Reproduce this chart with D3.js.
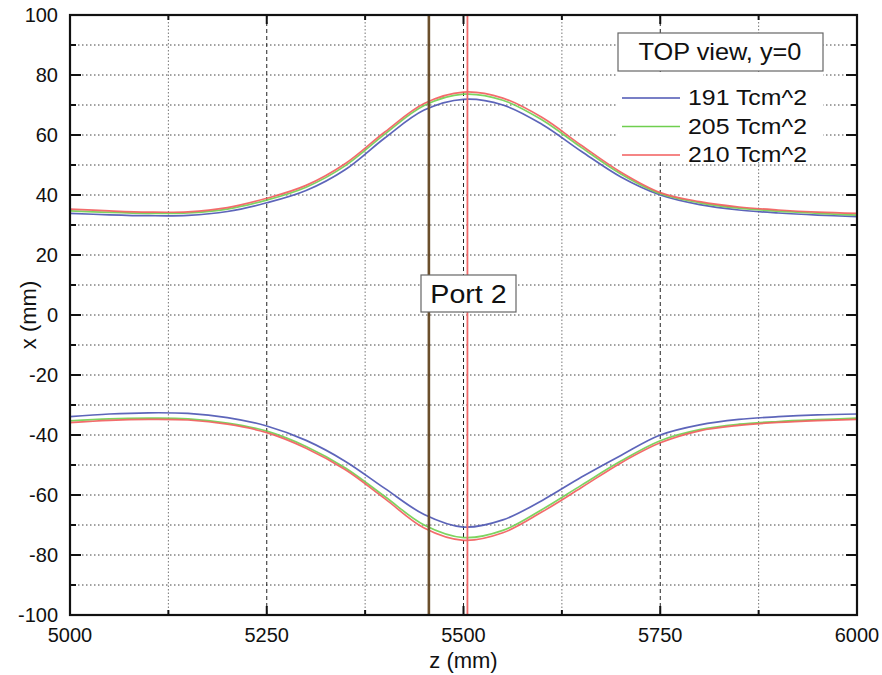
<!DOCTYPE html>
<html>
<head>
<meta charset="utf-8">
<script src="https://cdn.jsdelivr.net/npm/d3@7"></script>
<style>
  body { margin: 0; background: #fff; }
  svg { display: block; font-family: "Liberation Sans", Arial, sans-serif; }
</style>
</head>
<body>
<svg id="chart" width="882" height="675"></svg>
<script>
// Beam envelope (x vs z) for three field integrals, top view at y = 0
const zValues  = [5000, 5050, 5100, 5150, 5200, 5250, 5300, 5350, 5400, 5450, 5500, 5550, 5600, 5650, 5700, 5750, 5800, 5850, 5900, 5950, 6000];

const upper191 = [33.9, 33.4, 33.1, 33.2, 34.5, 37.4, 41.5, 48.5, 59.0, 68.3, 71.9, 70.0, 63.5, 54.5, 46.0, 40.0, 36.8, 35.0, 34.0, 33.3, 32.8];
const upper205 = [34.7, 34.2, 33.9, 34.0, 35.3, 38.3, 42.6, 49.8, 60.3, 69.8, 73.6, 71.6, 65.0, 55.8, 47.0, 40.4, 37.4, 35.6, 34.6, 33.9, 33.3];
const upper210 = [35.3, 34.7, 34.3, 34.4, 35.8, 38.9, 43.2, 50.5, 61.0, 70.5, 74.3, 72.3, 65.8, 56.5, 47.6, 40.8, 37.8, 36.0, 35.0, 34.3, 33.9];

const lower191 = [-33.9, -33.0, -32.6, -32.8, -34.2, -37.0, -41.8, -48.8, -57.8, -66.5, -70.7, -68.3, -61.8, -54.0, -46.8, -40.0, -36.6, -34.8, -33.9, -33.3, -33.0];
const lower205 = [-35.3, -34.6, -34.4, -34.6, -36.0, -38.7, -43.8, -51.0, -60.5, -70.0, -74.2, -71.8, -64.8, -56.7, -48.7, -41.9, -38.2, -36.4, -35.5, -34.9, -34.4];
const lower210 = [-35.9, -35.1, -34.8, -35.0, -36.4, -39.2, -44.4, -51.6, -61.2, -71.0, -75.1, -72.6, -65.6, -57.5, -49.3, -42.6, -38.6, -36.8, -35.8, -35.2, -34.8];

const seriesNames  = ["191 Tcm^2", "205 Tcm^2", "210 Tcm^2"];
const seriesColors = ["#4b54b3", "#6fcf4f", "#f25c5c"];

// Reference positions along z
const portZ   = [5456];
const markerZ = [5505];

const xTickValues = [5000, 5250, 5500, 5750, 6000];
const xMinorTicks = [5125, 5375, 5625, 5875];
const yTickValues = [-100, -80, -60, -40, -20, 0, 20, 40, 60, 80, 100];
const yMinorTicks = [-90, -70, -50, -30, -10, 10, 30, 50, 70, 90];

const svg = d3.select("#chart");
const plotLeft = 70, plotTop = 15, plotW = 787, plotH = 600;

const x = d3.scaleLinear().domain([5000, 6000]).range([plotLeft, plotLeft + plotW]);
const y = d3.scaleLinear().domain([-100, 100]).range([plotTop + plotH, plotTop]);

const g = svg.append("g");

// Grid
g.selectAll(".hgrid").data(yTickValues.concat(yMinorTicks).filter(v => v > -100 && v < 100))
  .join("line")
  .attr("x1", plotLeft).attr("x2", plotLeft + plotW)
  .attr("y1", d => y(d)).attr("y2", d => y(d))
  .attr("stroke", "#444").attr("stroke-width", 1).attr("stroke-dasharray", "1.5,2.5");

g.selectAll(".vminor").data(xMinorTicks).join("line")
  .attr("x1", d => x(d)).attr("x2", d => x(d))
  .attr("y1", plotTop).attr("y2", plotTop + plotH)
  .attr("stroke", "#777").attr("stroke-width", 1).attr("stroke-dasharray", "1.5,2");

g.selectAll(".vmajor").data(xTickValues.filter(v => v > 5000 && v < 6000)).join("line")
  .attr("x1", d => x(d)).attr("x2", d => x(d))
  .attr("y1", plotTop).attr("y2", plotTop + plotH)
  .attr("stroke", "#222").attr("stroke-width", 1).attr("stroke-dasharray", "4,3");

// Curves
const line = d3.line().x((d, i) => x(zValues[i])).y(d => y(d)).curve(d3.curveCatmullRom.alpha(0.5));
const curves = [upper191, upper205, upper210, lower191, lower205, lower210];
curves.forEach((vals, k) => {
  g.append("path").datum(vals)
    .attr("d", line)
    .attr("fill", "none")
    .attr("stroke", seriesColors[k % 3])
    .attr("stroke-width", 1.7)
    .attr("stroke-opacity", 0.9);
});

// Vertical reference lines
g.selectAll(".port").data(portZ).join("line")
  .attr("x1", d => x(d)).attr("x2", d => x(d))
  .attr("y1", plotTop).attr("y2", plotTop + plotH)
  .attr("stroke", "#6b4f2c").attr("stroke-width", 2.6);

g.selectAll(".marker").data(markerZ).join("line")
  .attr("x1", d => x(d)).attr("x2", d => x(d))
  .attr("y1", plotTop).attr("y2", plotTop + plotH)
  .attr("stroke", "#f06a6a").attr("stroke-width", 1.8);

// Frame and ticks
const frame = svg.append("g").attr("stroke", "#111").attr("stroke-width", 2.2);
frame.append("rect").attr("x", plotLeft).attr("y", plotTop).attr("width", plotW).attr("height", plotH)
  .attr("fill", "none");

const tickG = svg.append("g").attr("stroke", "#111").attr("stroke-width", 2);
yTickValues.forEach(v => {
  tickG.append("line").attr("x1", plotLeft).attr("x2", plotLeft + 11).attr("y1", y(v)).attr("y2", y(v));
  tickG.append("line").attr("x1", plotLeft + plotW).attr("x2", plotLeft + plotW - 11).attr("y1", y(v)).attr("y2", y(v));
});
yMinorTicks.forEach(v => {
  tickG.append("line").attr("x1", plotLeft).attr("x2", plotLeft + 6).attr("y1", y(v)).attr("y2", y(v));
  tickG.append("line").attr("x1", plotLeft + plotW).attr("x2", plotLeft + plotW - 6).attr("y1", y(v)).attr("y2", y(v));
});
xTickValues.forEach(v => {
  tickG.append("line").attr("x1", x(v)).attr("x2", x(v)).attr("y1", plotTop + plotH).attr("y2", plotTop + plotH - 9);
  tickG.append("line").attr("x1", x(v)).attr("x2", x(v)).attr("y1", plotTop).attr("y2", plotTop + 9);
});
xMinorTicks.forEach(v => {
  tickG.append("line").attr("x1", x(v)).attr("x2", x(v)).attr("y1", plotTop + plotH).attr("y2", plotTop + plotH - 5);
  tickG.append("line").attr("x1", x(v)).attr("x2", x(v)).attr("y1", plotTop).attr("y2", plotTop + 5);
});

// Tick labels
svg.append("g").selectAll("text").data(yTickValues).join("text")
  .attr("x", plotLeft - 12).attr("y", d => y(d))
  .attr("text-anchor", "end").attr("dominant-baseline", "central")
  .attr("font-size", 20).attr("fill", "#111")
  .text(d => d);

svg.append("g").selectAll("text").data(xTickValues).join("text")
  .attr("x", d => x(d)).attr("y", plotTop + plotH + 27)
  .attr("text-anchor", "middle")
  .attr("font-size", 20).attr("fill", "#111")
  .text(d => d);

// Axis titles
svg.append("text")
  .attr("x", x(5500)).attr("y", 668)
  .attr("text-anchor", "middle").attr("font-size", 22).attr("fill", "#111")
  .text("z (mm)");

svg.append("text")
  .attr("transform", `translate(36,${y(0)}) rotate(-90)`)
  .attr("text-anchor", "middle").attr("font-size", 22).attr("fill", "#111")
  .text("x (mm)");

// Legend
const lg = svg.append("g");
lg.append("rect").attr("x", 617).attr("y", 72).attr("width", 206).attr("height", 90).attr("fill", "#fff");
lg.append("rect").attr("x", 618).attr("y", 33).attr("width", 205).attr("height", 38)
  .attr("fill", "#fff").attr("stroke", "#666").attr("stroke-width", 1.2);
lg.append("text")
  .attr("transform", "translate(720,52) scale(1.1,1)")
  .attr("text-anchor", "middle")
  .attr("dominant-baseline", "central").attr("font-size", 23).attr("fill", "#111")
  .text("TOP view, y=0");
seriesNames.forEach((name, i) => {
  const cy = 98 + i * 28.5;
  lg.append("line").attr("x1", 622).attr("x2", 680).attr("y1", cy).attr("y2", cy)
    .attr("stroke", seriesColors[i]).attr("stroke-width", 1.7);
  lg.append("text")
    .attr("transform", `translate(688,${cy}) scale(1.13,1)`)
    .attr("dominant-baseline", "central")
    .attr("font-size", 22).attr("fill", "#111").text(name);
});

// Port label
const pg = svg.append("g");
pg.append("rect").attr("x", 421).attr("y", 275).attr("width", 95).attr("height", 37)
  .attr("fill", "#fff").attr("stroke", "#666").attr("stroke-width", 1.2);
pg.append("text")
  .attr("transform", "translate(468.5,294) scale(1.1,1)")
  .attr("text-anchor", "middle")
  .attr("dominant-baseline", "central").attr("font-size", 26).attr("fill", "#111")
  .text("Port 2");
</script>
</body>
</html>
